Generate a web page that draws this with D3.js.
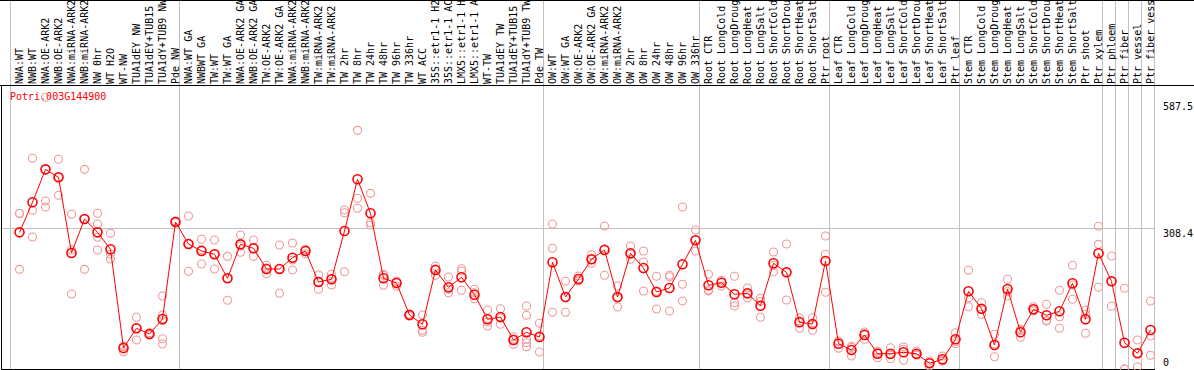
<!DOCTYPE html>
<html>
<head>
<meta charset="UTF-8">
<style>
  body { margin: 0; background: #fff; }
  svg { display: block; }
  text { font-family: "DejaVu Sans Mono", monospace; font-size: 10px; }
</style>
</head>
<body>
<svg></svg>
<script src="https://d3js.org/d3.v7.min.js"></script>
<script>

let width = 1194, height = 370;

const geneName = "Potri.003G144900";

// sample names, as printed (cut to 14 characters)
const samples = [
  "NWA:WT", "NWB:WT", "NWA:OE-ARK2", "NWB:OE-ARK2", "NWA:miRNA-ARK2", "NWB:miRNA-ARK2",
  "NW 0hr", "WT H2O", "WT-NW", "TUA1dEY NW", "TUA1dEY+TUB15", "TUA1dY+TUB9 NW", "Pde NW",
  "NWA:WT GA", "NWBWT GA", "TW:WT", "TW:WT GA", "NWA:OE-ARK2 GA", "NWB:OE-ARK2 GA",
  "TW:OE-ARK2", "TW:OE-ARK2 GA", "NWA:miRNA-ARK2", "NWB:miRNA-ARK2", "TW:miRNA-ARK2",
  "TW:miRNA-ARK2", "TW 2hr", "TW 8hr", "TW 24hr", "TW 48hr", "TW 96hr", "TW 336hr",
  "WT ACC", "35S::etr1-1 H2", "35S::etr1-1 AC", "LMX5::etr1-1 H", "LMX5::etr1-1 A",
  "WT-TW", "TUA1dEY TW", "TUA1dEY+TUB15", "TUA1dY+TUB9 TW", "Pde TW",
  "OW:WT", "OW:WT GA", "OW:OE-ARK2", "OW:OE-ARK2 GA", "OW:miRNA-ARK2", "OW:miRNA-ARK2",
  "OW 2hr", "OW 8hr", "OW 24hr", "OW 48hr", "OW 96hr", "OW 336hr",
  "Root CTR", "Root LongCold", "Root LongDroug", "Root LongHeat", "Root LongSalt",
  "Root ShortCold", "Root ShortDrou", "Root ShortHeat", "Root ShortSalt", "Ptr root",
  "Leaf CTR", "Leaf LongCold", "Leaf LongDroug", "Leaf LongHeat", "Leaf LongSalt",
  "Leaf ShortCold", "Leaf ShortDrou", "Leaf ShortHeat", "Leaf ShortSalt", "Ptr leaf",
  "Stem CTR", "Stem LongCold", "Stem LongDroug", "Stem LongHeat", "Stem LongSalt",
  "Stem ShortCold", "Stem ShortDrou", "Stem ShortHeat", "Stem ShortSalt",
  "Ptr shoot", "Ptr xylem", "Ptr phloem", "Ptr fiber", "Ptr vessel", "Ptr fiber vess"
];

// mean expression per sample
const means = [
  299.6, 365.4, 437.7, 420.2, 254.3, 328.8, 299.6, 262.4, 46.0, 89.2, 76.7, 109.6, 322.2,
  274.0, 258.7, 251.4, 198.8, 273.3, 264.6, 219.2, 219.2, 244.0, 258.7, 190.7, 196.6,
  302.5, 415.8, 341.3, 198.8, 188.5, 118.4, 98.0, 217.0, 179.1, 201.0, 162.9, 108.9,
  114.0, 63.6, 80.4, 70.1,
  233.9, 157.8, 197.3, 240.5, 260.8, 157.8, 253.6, 221.4, 168.8, 177.6, 229.5, 282.1,
  183.5, 189.2, 163.7, 165.9, 138.8, 231.7, 212.0, 102.4, 98.6, 236.7,
  55.5, 41.6, 74.5, 33.5, 33.5, 36.6, 33.5, 12.5, 21.3, 65.1,
  170.3, 132.2, 52.6, 175.4, 80.4, 130.9, 117.7, 126.5, 187.9,
  108.9, 253.6, 192.2, 57.6, 34.4, 85.5
];

// individual replicates per sample
const replicates = [
  [341.3, 341.0, 218.5], [461.9, 347.9, 289.3], [595.6, 368.3, 355.1], [459.7, 380.8, 420.2],
  [339.1, 260.8, 164.4], [437.7, 218.5, 328.8], [341.3, 317.8, 288.7, 260.8], [297.5, 252.1, 241.1],
  [48.9, 37.9, 50.4], [113.3, 63.6, 89.2], [79.6, 75.6, 74.5], [160.0, 118.4, 105.9, 66.4, 54.8],
  [324.4, 321.1, 322.2],
  [335.4, 214.2, 274.0], [284.3, 230.2, 261.6], [282.8, 219.2, 252.0], [247.0, 150.6, 198.8],
  [293.7, 255.8, 269.6], [282.8, 247.0, 264.0], [227.3, 208.9, 221.4], [271.8, 165.9, 219.9],
  [276.2, 217.0, 238.9], [262.4, 252.7, 260.8], [206.0, 174.7, 191.4], [207.6, 184.1, 198.2],
  [348.5, 342.6, 213.3], [523.2, 374.2, 352.3], [385.1, 320.7, 315.6], [207.6, 183.5, 205.0],
  [190.7, 181.9, 192.9], [120.6, 116.2, 118.4], [118.4, 84.8, 80.4], [225.8, 219.9, 205.4],
  [201.7, 174.7, 167.2], [219.9, 214.8, 172.5], [174.7, 167.2, 154.1], [129.3, 103.0, 94.3],
  [132.2, 98.0, 111.8], [70.8, 54.1, 65.8], [138.1, 117.7, 65.1, 57.6, 48.9], [100.2, 37.3, 72.9],
  [317.8, 264.6, 124.3], [192.2, 124.3, 157.0], [203.9, 192.9, 195.0], [250.5, 231.7, 240.0],
  [313.5, 205.4, 263.5], [181.9, 135.9, 155.6], [269.6, 240.5, 251.0], [258.7, 234.5, 171.0],
  [203.2, 131.5, 171.0], [205.4, 202.3, 127.1], [355.1, 185.7, 149.1], [304.7, 258.7, 282.8],
  [207.6, 173.2, 171.0], [194.4, 181.9, 190.7], [203.2, 145.3, 138.1], [177.6, 156.3, 164.4],
  [155.0, 113.3, 148.1], [256.5, 212.6, 226.9], [274.0, 151.2, 211.5], [112.4, 89.2, 105.2],
  [112.4, 84.8, 98.6], [291.5, 251.4, 168.1],
  [61.4, 45.4, 59.2], [49.8, 28.5, 47.1], [81.1, 65.1, 77.8], [39.5, 24.8, 36.2],
  [46.7, 22.6, 31.3], [48.2, 43.2, 19.1], [39.5, 30.0, 31.3], [17.5, 6.6, 13.2],
  [28.5, 17.5, 17.9], [79.6, 55.5, 60.3],
  [216.4, 156.3, 136.6], [145.3, 119.9, 131.5], [76.1, 27.0, 54.8], [196.6, 169.4, 160.0],
  [87.0, 69.5, 84.4], [136.6, 129.3, 127.1], [141.8, 105.2, 106.3], [172.5, 114.6, 89.2],
  [227.3, 152.8, 184.1],
  [129.3, 78.3, 119.5], [312.8, 273.3, 179.1], [247.7, 137.4, 191.8], [176.9, 0, 0],
  [63.6, 5.0, 34.6], [149.1, 72.3, 30.0]
];

// group separators (index of first sample after a break)
const groupBreaks = [0, 13, 41, 53, 63, 73, 84, 85, 86, 87, 88];
const yTicks = [0, 308.4, 587.5];

let svg = d3.select("svg").attr("width", width).attr("height", height);

let headerBottom = 85, plotBottom = 369, plotRight = 1154;

let x = d3.scaleBand()
    .domain(d3.range(samples.length))
    .range([10, 10 + 13 * samples.length])
    .padding(0);

let y = d3.scaleLinear()
    .domain([0, 587.5])
    .range([plotBottom, 101]);

const px = i => x(i) + 9.5;
const edge = k => k < samples.length ? x(k) : x(samples.length - 1) + x.bandwidth();

// grid lines
svg.append("g")
    .selectAll("line")
    .data(groupBreaks)
    .enter()
    .append("line")
    .attr("x1", d => Math.round(edge(d)) + 0.5)
    .attr("x2", d => Math.round(edge(d)) + 0.5)
    .attr("y1", 0)
    .attr("y2", plotBottom)
    .style("stroke", "#c0c0c0")
    .style("stroke-width", 1);

svg.append("line")
    .attr("x1", 1).attr("x2", plotRight)
    .attr("y1", Math.round(y(308.4)) + 0.5).attr("y2", Math.round(y(308.4)) + 0.5)
    .style("stroke", "#c0c0c0");

// frame
svg.append("line").attr("x1", 0).attr("x2", width).attr("y1", 0.5).attr("y2", 0.5).style("stroke", "#000");
svg.append("line").attr("x1", 0).attr("x2", width).attr("y1", headerBottom + 0.5).attr("y2", headerBottom + 0.5).style("stroke", "#000");
svg.append("line").attr("x1", 1.5).attr("x2", 1.5).attr("y1", headerBottom).attr("y2", plotBottom + 1).style("stroke", "#000");
svg.append("line").attr("x1", 1).attr("x2", plotRight + 1).attr("y1", plotBottom + 0.5).attr("y2", plotBottom + 0.5).style("stroke", "#000");

// sample labels
svg.append("g")
    .selectAll("text")
    .data(samples)
    .enter()
    .append("text")
    .attr("transform", (d, i) => "translate(" + (px(i) + 3.5) + "," + (headerBottom - 1) + ") rotate(-90)")
    .attr("text-anchor", "start")
    .style("fill", "#000")
    .text(d => d);

// gene name
svg.append("text")
    .attr("x", 10).attr("y", 100)
    .style("fill", "red")
    .text(geneName);

// y labels
svg.append("g")
    .selectAll("text")
    .data(yTicks)
    .enter()
    .append("text")
    .attr("x", 1163)
    .attr("y", d => d === 0 ? y(d) - 3.5 : y(d) + 8.5)
    .style("fill", "#000")
    .text(d => d);

// replicate points
let repData = [];
replicates.forEach((reps, i) => reps.forEach(v => repData.push({ i: i, v: v })));

svg.append("g")
    .selectAll("circle")
    .data(repData)
    .enter()
    .append("circle")
    .attr("cx", d => px(d.i))
    .attr("cy", d => y(d.v))
    .attr("r", 4)
    .style("fill", "none")
    .style("stroke", "#f09898")
    .style("stroke-width", 1.1);

// mean line
let line = d3.line()
    .x((d, i) => px(i))
    .y(d => y(d));

svg.append("path")
    .datum(means)
    .attr("d", line)
    .style("fill", "none")
    .style("stroke", "red")
    .style("stroke-width", 1);

svg.append("g")
    .selectAll("circle")
    .data(means)
    .enter()
    .append("circle")
    .attr("cx", (d, i) => px(i))
    .attr("cy", d => y(d))
    .attr("r", 4.5)
    .style("fill", "none")
    .style("stroke", "red")
    .style("stroke-width", 1.6);

</script>
</body>
</html>
